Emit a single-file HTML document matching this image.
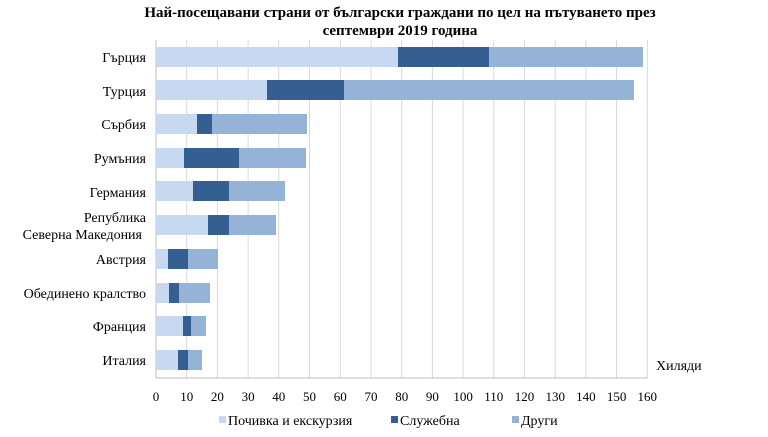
<!DOCTYPE html>
<html><head><meta charset="utf-8"><style>
body{margin:0;background:#fff;width:768px;height:432px;overflow:hidden}
svg{font-family:"Liberation Serif",serif}
</style></head><body>
<svg width="768" height="432" xmlns="http://www.w3.org/2000/svg">
<text x="400" y="17" font-size="15" font-weight="bold" text-anchor="middle">Най-посещавани страни от български граждани по цел на пътуването през</text>
<text x="400" y="35" font-size="15" font-weight="bold" text-anchor="middle">септември 2019 година</text>
<g stroke="#d9d9d9" stroke-width="1">
<line x1="186.7" y1="40" x2="186.7" y2="378"/><line x1="217.4" y1="40" x2="217.4" y2="378"/><line x1="248.1" y1="40" x2="248.1" y2="378"/><line x1="278.8" y1="40" x2="278.8" y2="378"/><line x1="309.5" y1="40" x2="309.5" y2="378"/><line x1="340.3" y1="40" x2="340.3" y2="378"/><line x1="371" y1="40" x2="371" y2="378"/><line x1="401.7" y1="40" x2="401.7" y2="378"/><line x1="432.4" y1="40" x2="432.4" y2="378"/><line x1="463.1" y1="40" x2="463.1" y2="378"/><line x1="493.8" y1="40" x2="493.8" y2="378"/><line x1="524.5" y1="40" x2="524.5" y2="378"/><line x1="555.2" y1="40" x2="555.2" y2="378"/><line x1="585.9" y1="40" x2="585.9" y2="378"/><line x1="616.6" y1="40" x2="616.6" y2="378"/><line x1="647.3" y1="40" x2="647.3" y2="378"/>
</g>
<line x1="156" y1="40" x2="156" y2="378" stroke="#bfbfbf"/>
<line x1="156" y1="378" x2="647.3" y2="378" stroke="#bfbfbf"/>
<g>
<rect x="156" y="47" width="242" height="20" fill="#c6d9f1"/><rect x="398" y="47" width="91" height="20" fill="#365f91"/><rect x="489" y="47" width="154" height="20" fill="#95b3d7"/>
<rect x="156" y="80" width="111" height="20" fill="#c6d9f1"/><rect x="267" y="80" width="77" height="20" fill="#365f91"/><rect x="344" y="80" width="290" height="20" fill="#95b3d7"/>
<rect x="156" y="114" width="41" height="20" fill="#c6d9f1"/><rect x="197" y="114" width="15" height="20" fill="#365f91"/><rect x="212" y="114" width="95" height="20" fill="#95b3d7"/>
<rect x="156" y="148" width="28" height="20" fill="#c6d9f1"/><rect x="184" y="148" width="55" height="20" fill="#365f91"/><rect x="239" y="148" width="67" height="20" fill="#95b3d7"/>
<rect x="156" y="181" width="37" height="20" fill="#c6d9f1"/><rect x="193" y="181" width="36" height="20" fill="#365f91"/><rect x="229" y="181" width="56" height="20" fill="#95b3d7"/>
<rect x="156" y="215" width="52" height="20" fill="#c6d9f1"/><rect x="208" y="215" width="21" height="20" fill="#365f91"/><rect x="229" y="215" width="47" height="20" fill="#95b3d7"/>
<rect x="156" y="249" width="12" height="20" fill="#c6d9f1"/><rect x="168" y="249" width="20" height="20" fill="#365f91"/><rect x="188" y="249" width="30" height="20" fill="#95b3d7"/>
<rect x="156" y="283" width="13" height="20" fill="#c6d9f1"/><rect x="169" y="283" width="10" height="20" fill="#365f91"/><rect x="179" y="283" width="31" height="20" fill="#95b3d7"/>
<rect x="156" y="316" width="27" height="20" fill="#c6d9f1"/><rect x="183" y="316" width="8" height="20" fill="#365f91"/><rect x="191" y="316" width="15" height="20" fill="#95b3d7"/>
<rect x="156" y="350" width="22" height="20" fill="#c6d9f1"/><rect x="178" y="350" width="10" height="20" fill="#365f91"/><rect x="188" y="350" width="14" height="20" fill="#95b3d7"/>
</g>
<g font-size="14" text-anchor="end">
<text x="146" y="62">Гърция</text><text x="146" y="96">Турция</text><text x="146" y="129">Сърбия</text><text x="146" y="163">Румъния</text><text x="146" y="197">Германия</text>
<text x="146" y="222">Република</text><text x="142" y="239">Северна Македония</text>
<text x="146" y="264">Австрия</text><text x="146" y="298">Обединено кралство</text><text x="146" y="331">Франция</text><text x="146" y="365">Италия</text>
</g>
<g font-size="13" text-anchor="middle">
<text x="156" y="401">0</text><text x="186.7" y="401">10</text><text x="217.4" y="401">20</text><text x="248.1" y="401">30</text><text x="278.8" y="401">40</text><text x="309.5" y="401">50</text><text x="340.3" y="401">60</text><text x="371" y="401">70</text><text x="401.7" y="401">80</text><text x="432.4" y="401">90</text><text x="463.1" y="401">100</text><text x="493.8" y="401">110</text><text x="524.5" y="401">120</text><text x="555.2" y="401">130</text><text x="585.9" y="401">140</text><text x="616.6" y="401">150</text><text x="647.3" y="401">160</text>
</g>
<text x="656" y="370" font-size="14">Хиляди</text>
<g font-size="14">
<rect x="219" y="416" width="7" height="7" fill="#c6d9f1"/><text x="228" y="425">Почивка и екскурзия</text>
<rect x="391" y="416" width="7" height="7" fill="#365f91"/><text x="400" y="425">Служебна</text>
<rect x="512" y="416" width="7" height="7" fill="#95b3d7"/><text x="521" y="425">Други</text>
</g>
</svg>
</body></html>
